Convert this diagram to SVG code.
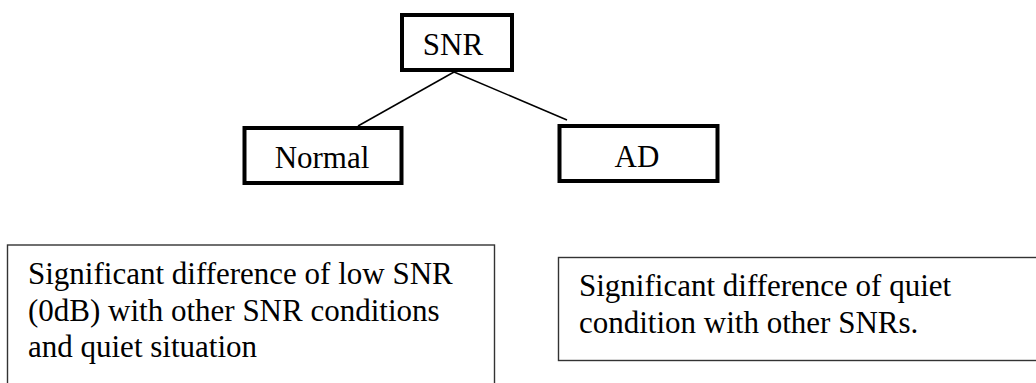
<svg xmlns="http://www.w3.org/2000/svg" width="1036" height="383" viewBox="0 0 1036 383">
<style>
.node{fill:#fff;stroke:#000;stroke-width:4}
.note{fill:#fff;stroke:#333;stroke-width:1.4}
.t{font-family:'Liberation Serif','DejaVu Serif',serif;font-size:31px;fill:#000}
.c{stroke:#000;stroke-width:1.5;fill:none}
</style>
<rect width="1036" height="383" fill="#fff"/>
<g id="connectors">
<line class="c" x1="454" y1="72" x2="358" y2="126"/>
<line class="c" x1="454" y1="72" x2="567" y2="120"/>
</g>
<g id="snr">
<rect class="node" x="402" y="15" width="110" height="55"/>
<text class="t" x="453" y="55" text-anchor="middle">SNR</text>
</g>
<g id="normal">
<rect class="node" x="244.5" y="128" width="157" height="55"/>
<text class="t" x="322" y="167.5" text-anchor="middle">Normal</text>
</g>
<g id="ad">
<rect class="node" x="559.5" y="126" width="158" height="55"/>
<text class="t" x="637" y="166.5" text-anchor="middle">AD</text>
</g>
<g id="note-left">
<rect class="note" x="7.5" y="245" width="487" height="150"/>
<text class="t" x="28" y="284">Significant difference of low SNR</text>
<text class="t" x="28" y="321">(0dB) with other SNR conditions</text>
<text class="t" x="28" y="357">and quiet situation</text>
</g>
<g id="note-right">
<rect class="note" x="558.5" y="257.5" width="490" height="103"/>
<text class="t" x="579" y="296">Significant difference of quiet</text>
<text class="t" x="579" y="333">condition with other SNRs.</text>
</g>
</svg>
